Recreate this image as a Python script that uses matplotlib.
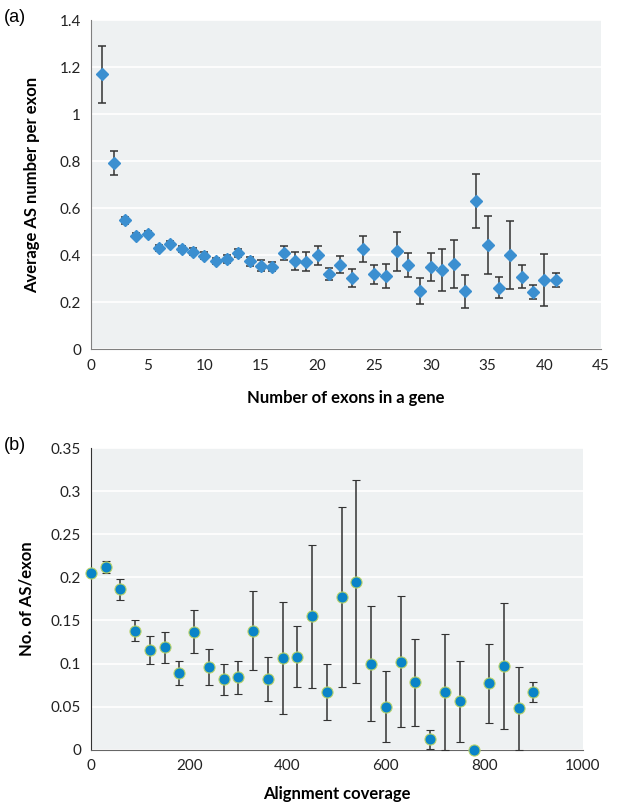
import matplotlib
matplotlib.use("Agg")
import matplotlib.pyplot as plt

plt.rcParams["font.family"] = ["Lato", "DejaVu Sans"]

# (a) average AS number per exon vs number of exons
exon_counts = list(range(1, 42))
as_per_exon = [
    1.169, 0.793, 0.548, 0.484, 0.492, 0.431, 0.450, 0.426, 0.416, 0.399,
    0.376, 0.384, 0.410, 0.374, 0.356, 0.352, 0.411, 0.376, 0.373, 0.400,
    0.322, 0.359, 0.305, 0.427, 0.319, 0.311, 0.417, 0.358, 0.249, 0.349,
    0.336, 0.363, 0.247, 0.630, 0.443, 0.263, 0.402, 0.309, 0.244, 0.294,
    0.294,
]
as_err = [
    0.12, 0.05, 0.015, 0.012, 0.012, 0.012, 0.012, 0.013, 0.013, 0.013,
    0.013, 0.016, 0.017, 0.02, 0.022, 0.02, 0.03, 0.04, 0.039, 0.04,
    0.026, 0.036, 0.038, 0.055, 0.041, 0.05, 0.083, 0.05, 0.055, 0.059,
    0.089, 0.101, 0.07, 0.115, 0.124, 0.044, 0.144, 0.049, 0.031, 0.11,
    0.03,
]

# (b) number of AS per exon vs alignment coverage
coverage = list(range(0, 901, 30))
as_cov = [
    0.205, 0.212, 0.186, 0.138, 0.116, 0.119, 0.089, 0.137, 0.096, 0.082,
    0.084, 0.138, 0.082, 0.106, 0.108, 0.155, 0.067, 0.177, 0.195, 0.100,
    0.050, 0.102, 0.078, 0.012, 0.067, 0.056, 0.000, 0.077, 0.097, 0.048,
    0.067,
]
cov_err = [
    0.0, 0.007, 0.012, 0.012, 0.016, 0.018, 0.014, 0.025, 0.021, 0.018,
    0.019, 0.046, 0.026, 0.065, 0.035, 0.083, 0.032, 0.104, 0.118, 0.067,
    0.041, 0.076, 0.051, 0.011, 0.067, 0.047, 0.0, 0.046, 0.073, 0.048,
    0.012,
]

BG = "#eef1f2"

fig = plt.figure(figsize=(6.18, 8.10), dpi=100)
ax1 = fig.add_axes([0.147, 0.5686, 0.8254, 0.4067])
ax2 = fig.add_axes([0.147, 0.0744, 0.7956, 0.3725])

for ax in (ax1, ax2):
    ax.set_facecolor(BG)
    ax.grid(axis="y", color="white", linewidth=1.2)
    ax.set_axisbelow(True)
    for s in ("top", "right"):
        ax.spines[s].set_visible(False)
    ax.tick_params(length=0, labelsize=11, colors="#222222", pad=7)
ax1.spines["left"].set_color("#808080")
ax1.spines["bottom"].set_color("#808080")
ax2.spines["left"].set_color("#333333")
ax2.spines["bottom"].set_color("#666666")

# panel (a)
ax1.errorbar(exon_counts, as_per_exon, yerr=as_err, fmt="D", color="#3b8fd0",
             markersize=6.5, ecolor="#333333", elinewidth=1.1, capsize=3,
             capthick=1.1, zorder=3)
ax1.set_xlim(0, 45)
ax1.set_ylim(0, 1.4)
ax1.set_xticks(range(0, 46, 5))
ax1.set_yticks([0, 0.2, 0.4, 0.6, 0.8, 1.0, 1.2, 1.4])
ax1.set_yticklabels(["0", "0.2", "0.4", "0.6", "0.8", "1", "1.2", "1.4"])
ax1.set_xlabel("Number of exons in a gene", fontsize=12, fontweight="bold", labelpad=12)
ax1.set_ylabel("Average AS number per exon", fontsize=12, fontweight="bold", labelpad=14)

# panel (b)
ax2.errorbar(coverage, as_cov, yerr=cov_err, fmt="o", color="#0a84c8",
             markeredgecolor="#b8d36a", markeredgewidth=0.8, markersize=8,
             ecolor="#333333", elinewidth=1.1, capsize=3, capthick=1.1,
             zorder=3, clip_on=False)
ax2.set_xlim(0, 1000)
ax2.set_ylim(0, 0.35)
ax2.set_xticks(range(0, 1001, 200))
ax2.set_yticks([0, 0.05, 0.1, 0.15, 0.2, 0.25, 0.3, 0.35])
ax2.set_yticklabels(["0", "0.05", "0.1", "0.15", "0.2", "0.25", "0.3", "0.35"])
ax2.set_xlabel("Alignment coverage", fontsize=12, fontweight="bold", labelpad=9)
ax2.set_ylabel("No. of AS/exon", fontsize=12, fontweight="bold", labelpad=12)

fig.text(0.006, 0.978, "(a)", fontsize=13, family="Liberation Sans", va="center")
fig.text(0.006, 0.450, "(b)", fontsize=13, family="Liberation Sans", va="center")

fig.savefig("out.png", dpi=100)
